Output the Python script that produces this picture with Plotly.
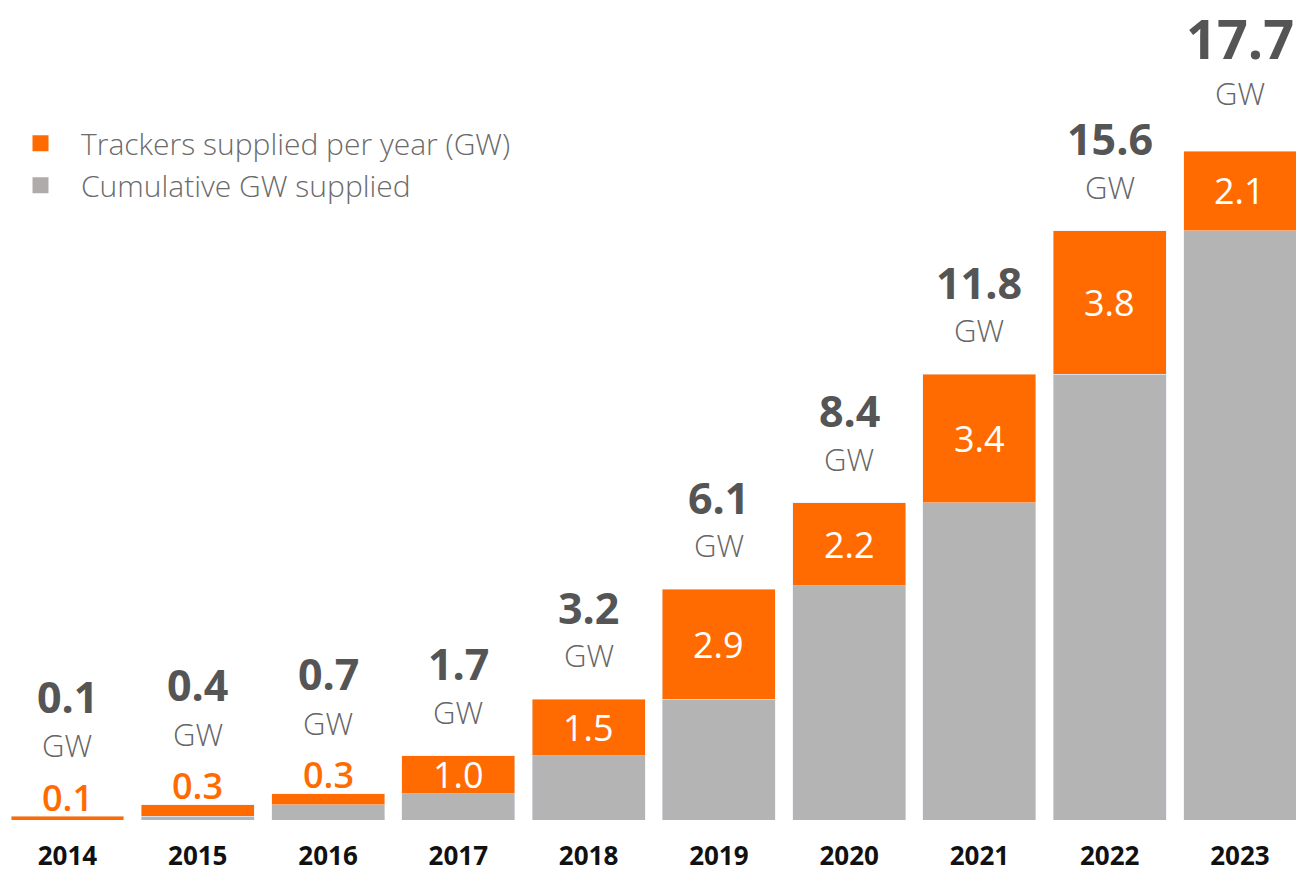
import plotly.graph_objs as go

years = ["2014", "2015", "2016", "2017", "2018", "2019", "2020", "2021", "2022", "2023"]
cumulative_total = [0.1, 0.4, 0.7, 1.7, 3.2, 6.1, 8.4, 11.8, 15.6, 17.7]
supplied_per_year = [0.1, 0.3, 0.3, 1.0, 1.5, 2.9, 2.2, 3.4, 3.8, 2.1]

ORANGE = "#ff6b00"
GREY = "#b4b4b4"
FONT = "Open Sans"

base = [round(t - y, 1) for t, y in zip(cumulative_total, supplied_per_year)]

fig = go.Figure()

fig.add_trace(
    go.Bar(
        x=years,
        y=base,
        marker_color=GREY,
        width=0.867,
        showlegend=False,
        hoverinfo="skip",
    )
)
fig.add_trace(
    go.Bar(
        x=years,
        y=supplied_per_year,
        marker_color=ORANGE,
        width=0.867,
        showlegend=False,
    )
)

# legend-only traces so the squares come out bigger than the bar icons
fig.add_trace(
    go.Scatter(
        x=[None], y=[None], mode="markers", name="Trackers supplied per year (GW)",
        marker=dict(symbol="square", size=18, color=ORANGE),
    )
)
fig.add_trace(
    go.Scatter(
        x=[None], y=[None], mode="markers", name="Cumulative GW supplied",
        marker=dict(symbol="square", size=18, color="#afabab"),
    )
)

annotations = []
for i, (tot, val) in enumerate(zip(cumulative_total, supplied_per_year)):
    small = val < 0.5
    last = i == len(years) - 1
    num_shift = 120 if small else (113 if last else 92)
    gw_shift = 71 if small else (58 if last else 44)
    annotations.append(dict(
        x=i, y=tot, text=f"{tot:.1f}", showarrow=False, yanchor="middle",
        yshift=num_shift,
        font=dict(family=FONT, size=54 if last else 43, color="#555555", weight=700),
    ))
    annotations.append(dict(
        x=i, y=tot, text="GW", showarrow=False, yanchor="middle", yshift=gw_shift,
        font=dict(family=FONT, size=31, color="#666666", weight=300),
    ))
    if small:
        annotations.append(dict(
            x=i, y=tot, text=f"{val:.1f}", showarrow=False, yanchor="middle", yshift=19,
            font=dict(family=FONT, size=36, color=ORANGE, weight=600),
        ))
    else:
        annotations.append(dict(
            x=i, y=tot - val / 2, text=f"{val:.1f}", showarrow=False, yanchor="middle",
            font=dict(family=FONT, size=36, color="white", weight=500),
        ))

fig.update_layout(
    barmode="stack",
    width=1296,
    height=873,
    plot_bgcolor="white",
    paper_bgcolor="white",
    margin=dict(l=0, r=0, t=0, b=46),
    annotations=annotations,
    legend=dict(
        x=0.0, y=0.857, xanchor="left", yanchor="top",
        font=dict(family=FONT, size=30, color="#6b6b6b", weight=300),
        itemwidth=71, tracegroupgap=0, traceorder="normal",
        bgcolor="rgba(0,0,0,0)",
    ),
    xaxis=dict(
        type="category",
        range=[-0.518, 9.43],
        showgrid=False, showline=False, zeroline=False, ticks="",
        tickfont=dict(family=FONT, size=26, color="#111111", weight=700),
        ticklabelstandoff=18,
        fixedrange=True,
    ),
    yaxis=dict(
        range=[0, 21.7], visible=False, fixedrange=True,
    ),
)

fig.write_html(
    "out.html",
    config={"displayModeBar": False},
    post_script="document.body.style.margin='0';",
)
